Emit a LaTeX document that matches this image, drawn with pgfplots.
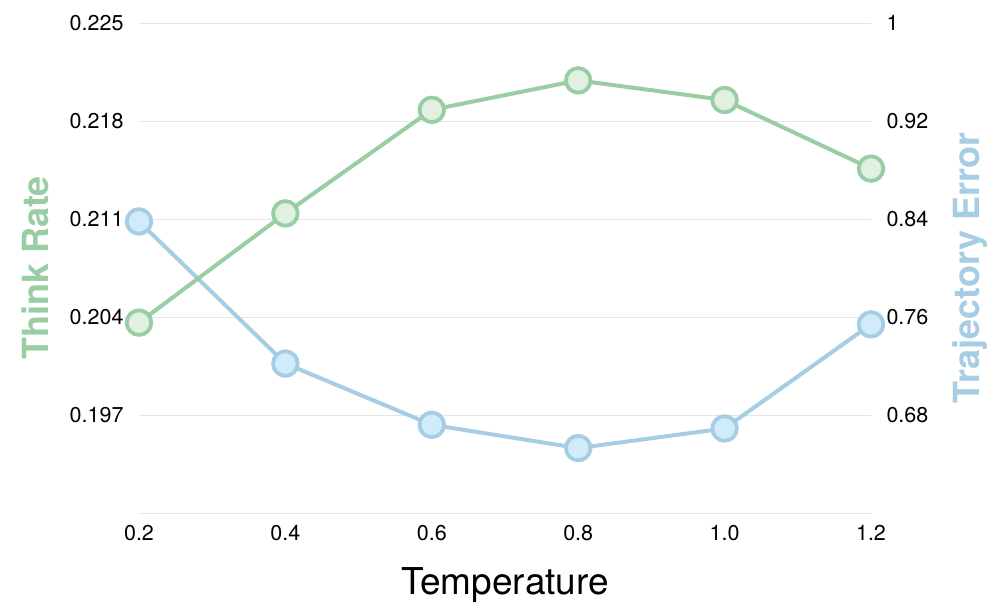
\documentclass[border=0pt]{standalone}
\usepackage{pgfplots}
\pgfplotsset{compat=1.18}
\usepackage{fontspec}
\setmainfont{TeX Gyre Heros}
\definecolor{gline}{RGB}{153,205,164}
\definecolor{gfill}{RGB}{226,240,225}
\definecolor{bline}{RGB}{166,205,227}
\definecolor{bfill}{RGB}{208,236,250}
\begin{document}
\begin{tikzpicture}
\pgfplotsset{
  common/.style={
    scale only axis, width=732pt, height=490pt,
    xmin=0.2, xmax=1.2, clip=false,
    axis line style={draw=none},
    major tick length=0pt,
    tick style={draw=none},
    /pgf/number format/assume math mode=true,
    ticklabel style={font=\fontsize{21.5}{25}\selectfont},
    xtick={0.2,0.4,0.6,0.8,1.0,1.2},
    xticklabels={0.2,0.4,0.6,0.8,1.0,1.2},
    xticklabel style={yshift=-9pt},
  }
}
% right axis: Trajectory Error (blue), carries the grid
\begin{axis}[common, name=a,
  axis y line*=right, axis x line*=bottom,
  ymin=0.6, ymax=1.0,
  ytick={0.6,0.68,0.76,0.84,0.92,1.0},
  yticklabels={,0.68,0.76,0.84,0.92,1},
  yticklabel style={xshift=12pt},
  ymajorgrids, major grid style={draw=black!10, line width=0.9pt},
  ylabel={Trajectory Error},
  every axis y label/.style={at={(rel axis cs:1,0.5)}, xshift=99pt, rotate=90, anchor=center,
    font=\fontsize{36}{40}\selectfont\bfseries, text=bline},
  xlabel={Temperature},
  every axis x label/.style={at={(rel axis cs:0.5,0)}, yshift=-72pt, anchor=center,
    font=\fontsize{37}{42}\selectfont},
]
\addplot[bline, line width=4pt, mark=*, mark size=12.3pt,
  mark options={fill=bfill, draw=bline, line width=3.8pt}]
  coordinates {(0.2,0.838) (0.4,0.722) (0.6,0.672) (0.8,0.653) (1.0,0.669) (1.2,0.754)};
\end{axis}
% left axis: Think Rate (green)
\begin{axis}[common,
  axis y line*=left, axis x line*=bottom,
  xticklabels={},
  ymin=0.190, ymax=0.225,
  ytick={0.190,0.197,0.204,0.211,0.218,0.225},
  yticklabels={,0.197,0.204,0.211,0.218,0.225},
  yticklabel style={xshift=-12pt},
  ylabel={Think Rate},
  every axis y label/.style={at={(rel axis cs:0,0.5)}, xshift=-104pt, rotate=90, anchor=center,
    font=\fontsize{36}{40}\selectfont\bfseries, text=gline},
]
\addplot[gline, line width=4pt, mark=*, mark size=12.3pt,
  mark options={fill=gfill, draw=gline, line width=3.8pt}]
  coordinates {(0.2,0.2036) (0.4,0.2114) (0.6,0.2188) (0.8,0.2209) (1.0,0.2195) (1.2,0.2146)};
\end{axis}
\path ([xshift=-139pt,yshift=-100pt]a.south west) rectangle ([xshift=125pt,yshift=23pt]a.north east);
\end{tikzpicture}
\end{document}
